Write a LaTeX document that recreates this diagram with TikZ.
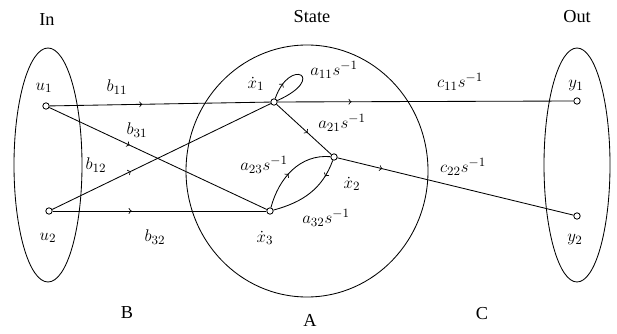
\documentclass[tikz,border=0pt]{standalone}
\usepackage{fontspec}
\setmainfont{Liberation Serif}
\usetikzlibrary{shapes.geometric,decorations.markings}

\begin{document}
\begin{tikzpicture}[
  line width=0.6pt,
  every node/.style={font=\fontsize{13}{15}\selectfont, inner sep=1pt},
  vertex/.style={draw, circle, fill=white, inner sep=0pt, minimum size=1.6mm},
  region/.style={draw, ellipse, inner sep=0pt},
  flow/.style={postaction={decorate}, decoration={markings, mark=at position #1 with {\arrow{>}}}}
]
  \useasboundingbox (0,0) rectangle (15.425,8.35);

  % sets
  \node[region, minimum width=1.7cm, minimum height=5.85cm] (inset) at (1.2,4.225) {};
  \node[region, minimum width=6.05cm, minimum height=6.3cm] (stateset) at (7.675,4.075) {};
  \node[region, minimum width=1.65cm, minimum height=5.85cm] (outset) at (14.425,4.225) {};

  \node (tin) at (1.175,7.85) {In};
  \node (tstate) at (7.8,7.925) {State};
  \node (tout) at (14.425,7.925) {Out};
  \node (tb) at (3.175,0.525) {B};
  \node (ta) at (7.75,0.35) {A};
  \node (tc) at (12.05,0.5) {C};

  % signals
  \node[vertex] (u1) at (1.15,5.7) {};
  \node[vertex] (u2) at (1.225,3.075) {};
  \node[vertex] (x1) at (6.85,5.8) {};
  \node[vertex] (x2) at (8.35,4.425) {};
  \node[vertex] (x3) at (6.75,3.075) {};
  \node[vertex] (y1) at (14.425,5.825) {};
  \node[vertex] (y2) at (14.425,2.95) {};

  \node (lu1) at (1.1,6.15) {$u_1$};
  \node (lu2) at (1.2,2.4) {$u_2$};
  \node (lx1) at (6.4,6.25) {$\dot{x}_1$};
  \node (lx2) at (8.8,3.75) {$\dot{x}_2$};
  \node (lx3) at (6.625,2.4) {$\dot{x}_3$};
  \node (ly1) at (14.4,6.2) {$y_1$};
  \node (ly2) at (14.375,2.35) {$y_2$};

  % branches
  \draw[flow=0.42] (u1) -- (x1);
  \draw[flow=0.37] (u1) -- (x3);
  \draw[flow=0.36] (u2) -- (x1);
  \draw[flow=0.37] (u2) -- (x3);
  \draw[flow=0.25] (x1) -- (y1);
  \draw[flow=0.57] (x1) -- (x2);
  \draw[flow=0.19] (x2) -- (y2);
  \draw[flow=0.22] (x1) .. controls +(0.4,1.15) and +(1.35,0.6) .. (x1);
  \draw[flow=0.45] (x3) to[out=75, in=175] (x2);
  \draw[flow=0.22] (x2) to[out=-110, in=15] (x3);

  \node (lb11) at (2.925,6.175) {$b_{11}$};
  \node (lb31) at (3.425,5.1) {$b_{31}$};
  \node (lb12) at (2.4,4.225) {$b_{12}$};
  \node (lb32) at (3.875,2.425) {$b_{32}$};
  \node (la11) at (8.35,6.6) {$a_{11}s^{-1}$};
  \node (la21) at (8.55,5.275) {$a_{21}s^{-1}$};
  \node (la23) at (6.6,4.225) {$a_{23}s^{-1}$};
  \node (la32) at (8.15,2.9) {$a_{32}s^{-1}$};
  \node (lc11) at (11.5,6.3) {$c_{11}s^{-1}$};
  \node (lc22) at (11.575,4.175) {$c_{22}s^{-1}$};
\end{tikzpicture}
\end{document}
